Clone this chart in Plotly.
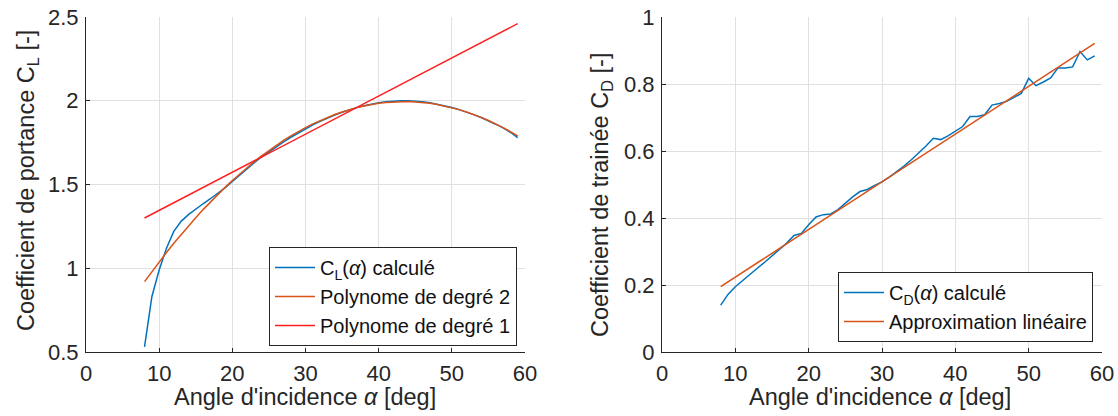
import plotly.graph_objects as go

alpha = list(range(8, 60))

cl_calc = [0.53, 0.83, 0.99, 1.12, 1.22, 1.28, 1.32, 1.355, 1.385, 1.415, 1.445, 1.48,
           1.518, 1.556, 1.594, 1.630, 1.664, 1.696, 1.726, 1.755, 1.782, 1.808, 1.833,
           1.856, 1.877, 1.897, 1.915, 1.931, 1.946, 1.959, 1.970, 1.980, 1.988, 1.994,
           1.998, 2.000, 2.000, 1.998, 1.994, 1.988, 1.980, 1.970, 1.960, 1.947, 1.933,
           1.917, 1.900, 1.881, 1.860, 1.838, 1.812, 1.780]

cl_poly2 = [0.920, 0.980, 1.038, 1.094, 1.149, 1.201, 1.253, 1.302, 1.350, 1.396, 1.440,
            1.483, 1.524, 1.563, 1.601, 1.637, 1.671, 1.703, 1.734, 1.763, 1.790, 1.816,
            1.840, 1.862, 1.882, 1.901, 1.918, 1.933, 1.947, 1.959, 1.969, 1.978, 1.985,
            1.990, 1.993, 1.995, 1.995, 1.993, 1.990, 1.985, 1.978, 1.969, 1.959, 1.947,
            1.933, 1.918, 1.901, 1.882, 1.862, 1.840, 1.816, 1.790]

lin_alpha = [8, 59]
cl_poly1 = [1.30, 2.46]

cd_calc = [0.140, 0.172, 0.195, 0.214, 0.233, 0.250, 0.268, 0.287, 0.306, 0.325, 0.348,
           0.354, 0.380, 0.403, 0.410, 0.412, 0.425, 0.445, 0.463, 0.479, 0.485, 0.497,
           0.508, 0.522, 0.538, 0.555, 0.574, 0.594, 0.615, 0.638, 0.634, 0.645, 0.658,
           0.673, 0.703, 0.703, 0.708, 0.737, 0.742, 0.748, 0.760, 0.772, 0.817, 0.795,
           0.806, 0.818, 0.848, 0.848, 0.851, 0.897, 0.872, 0.884]
cd_lin = [0.195, 0.921]

x_ticks = [0, 10, 20, 30, 40, 50, 60]
cl_ticks = [0.5, 1, 1.5, 2, 2.5]
cd_ticks = [0, 0.2, 0.4, 0.6, 0.8, 1]

BLUE = "#0072BD"
ORANGE = "#D95319"
RED = "#FF2020"
AX = "#262626"
GRID = "#e0e0e0"
FONT = "Liberation Sans, Arial, sans-serif"

fig = go.Figure()
fig.add_trace(go.Scatter(x=alpha, y=cl_calc, mode="lines", line=dict(color=BLUE, width=1.5),
                         name="C<sub>L</sub>(<i>α</i>) calculé", xaxis="x", yaxis="y", legend="legend"))
fig.add_trace(go.Scatter(x=alpha, y=cl_poly2, mode="lines", line=dict(color=ORANGE, width=1.5),
                         name="Polynome de degré 2", xaxis="x", yaxis="y", legend="legend"))
fig.add_trace(go.Scatter(x=lin_alpha, y=cl_poly1, mode="lines", line=dict(color=RED, width=1.5),
                         name="Polynome de degré 1", xaxis="x", yaxis="y", legend="legend"))
fig.add_trace(go.Scatter(x=alpha, y=cd_calc, mode="lines", line=dict(color=BLUE, width=1.5),
                         name="C<sub>D</sub>(<i>α</i>) calculé", xaxis="x2", yaxis="y2", legend="legend2"))
fig.add_trace(go.Scatter(x=lin_alpha, y=cd_lin, mode="lines", line=dict(color=ORANGE, width=1.5),
                         name="Approximation linéaire", xaxis="x2", yaxis="y2", legend="legend2"))

W, H = 1118, 416
ML, MR, MT, MB = 86, 16, 17, 64
PW, PH = W - ML - MR, H - MT - MB

def fx(px):
    return (px - ML) / PW

def fy(py):
    return 1 - (py - MT) / PH

axis_common = dict(showgrid=True, gridcolor=GRID, gridwidth=1, showline=True, linecolor=AX,
                   linewidth=1, ticks="inside", ticklen=4, tickcolor=AX, zeroline=False,
                   tickfont=dict(family=FONT, size=22, color=AX), mirror=False, automargin=False)

TF = dict(family=FONT, size=23.5, color=AX)
LF = dict(family=FONT, size=20, color="#111")

fig.update_layout(
    width=W, height=H,
    margin=dict(l=ML, r=MR, t=MT, b=MB),
    paper_bgcolor="white", plot_bgcolor="white",
    font=dict(family=FONT, color=AX),
    xaxis=dict(domain=[fx(86), fx(525)], range=[0, 60], tickvals=x_ticks, anchor="y",
               ticklabelstandoff=2, **axis_common),
    yaxis=dict(domain=[0, 1], range=[0.5, 2.5], tickvals=cl_ticks, anchor="x",
               ticklabelstandoff=2, **axis_common),
    xaxis2=dict(domain=[fx(662), fx(1102)], range=[0, 60], tickvals=x_ticks, anchor="y2",
                ticklabelstandoff=2, **axis_common),
    yaxis2=dict(domain=[0, 1], range=[0, 1], tickvals=cd_ticks, anchor="x2",
                ticklabelstandoff=2, **axis_common),
    legend=dict(x=fx(269), y=fy(247), xanchor="left", yanchor="top", bgcolor="white",
                bordercolor=AX, borderwidth=1, font=LF, itemwidth=40, tracegroupgap=0),
    legend2=dict(x=fx(838), y=fy(272), xanchor="left", yanchor="top", bgcolor="white",
                 bordercolor=AX, borderwidth=1, font=LF, itemwidth=40, tracegroupgap=0),
    annotations=[
        dict(text="Angle d'incidence <i>α</i> [deg]", x=fx(305), y=fy(397),
             xanchor="center", yanchor="middle",
             xref="paper", yref="paper", showarrow=False, font=TF),
        dict(text="Angle d'incidence <i>α</i> [deg]", x=fx(880), y=fy(397),
             xanchor="center", yanchor="middle",
             xref="paper", yref="paper", showarrow=False, font=TF),
        dict(text="Coefficient de portance C<sub>L</sub> [-]", x=fx(28), y=fy(181), textangle=-90,
             xanchor="center", yanchor="middle",
             xref="paper", yref="paper", showarrow=False, font=TF),
        dict(text="Coefficient de trainée C<sub>D</sub> [-]", x=fx(601), y=fy(195), textangle=-90,
             xanchor="center", yanchor="middle",
             xref="paper", yref="paper", showarrow=False, font=TF),
    ],
)

fig.write_html("out.html", config={"displayModeBar": False},
               post_script="document.body.style.margin='0';")
